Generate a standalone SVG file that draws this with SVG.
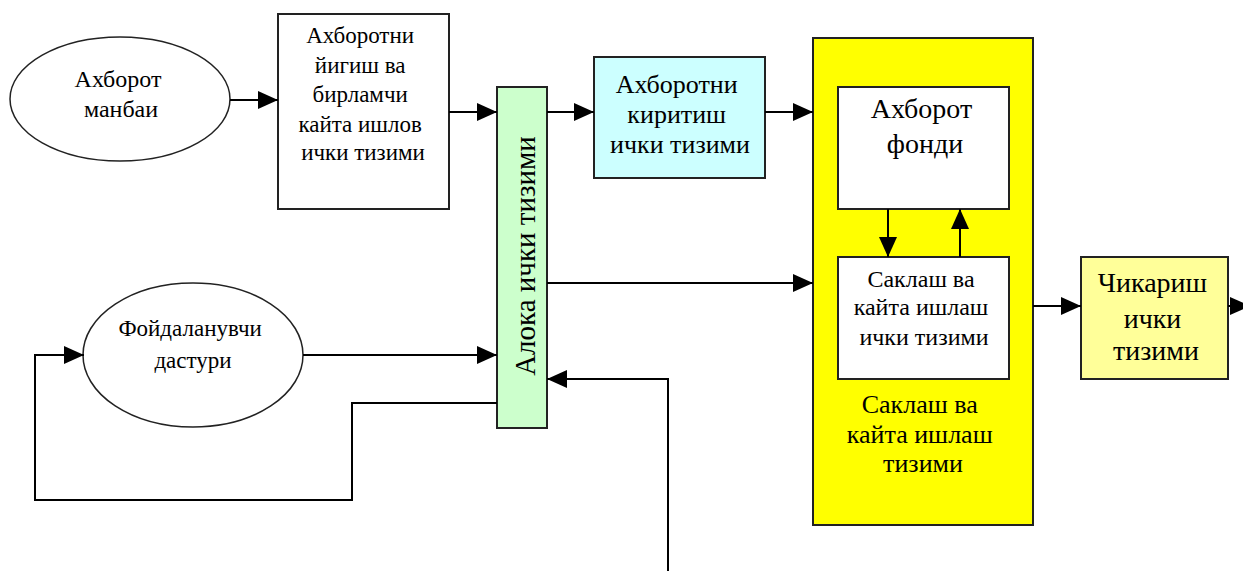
<svg xmlns="http://www.w3.org/2000/svg" width="1243" height="571" viewBox="0 0 1243 571">
  <style>
    .box { stroke: #222; stroke-width: 2; }
    .oval { fill: #fff; stroke: #222; stroke-width: 1.5; }
    .lbl { font-family: "Liberation Serif", "Times New Roman", serif; fill: #000; text-anchor: middle; }
    .wire { fill: none; stroke: #000; stroke-width: 2; }
  </style>
  <defs>
    <marker id="head" viewBox="0 0 20 18" refX="20" refY="9" markerWidth="20" markerHeight="18" markerUnits="userSpaceOnUse" orient="auto">
      <path d="M0,0 L20,9 L0,18 Z" fill="#000"/>
    </marker>
  </defs>
  <rect width="1243" height="571" fill="#fff"/>

  <!-- storage subsystem container (drawn first so inner nodes sit on top) -->
  <g id="storage-system">
    <rect class="box" x="813" y="38" width="220" height="487" fill="#ffff00"/>
    <text class="lbl" font-size="26">
      <tspan x="923" y="413">Саклаш ва</tspan>
      <tspan x="923" y="443">кайта ишлаш</tspan>
      <tspan x="923" y="472">тизими</tspan>
    </text>
  </g>

  <g id="source">
    <ellipse class="oval" cx="120" cy="99" rx="110" ry="62"/>
    <text class="lbl" font-size="24">
      <tspan x="121" y="87">Ахборот</tspan>
      <tspan x="121" y="117">манбаи</tspan>
    </text>
  </g>

  <g id="collect">
    <rect class="box" x="278" y="14" width="171" height="195" fill="#fff"/>
    <text class="lbl" font-size="23">
      <tspan x="363" y="43">Ахборотни</tspan>
      <tspan x="363" y="73">йигиш ва</tspan>
      <tspan x="363" y="102">бирламчи</tspan>
      <tspan x="363" y="132">кайта ишлов</tspan>
      <tspan x="363" y="160">ички тизими</tspan>
    </text>
  </g>

  <g id="link">
    <rect class="box" x="497" y="87" width="50" height="341" fill="#ccffcc"/>
    <text class="lbl" font-size="29" transform="translate(535,256) rotate(-90)" x="0" y="0">Алока ички тизими</text>
  </g>

  <g id="input">
    <rect class="box" x="594" y="57" width="171" height="121" fill="#ccffff"/>
    <text class="lbl" font-size="26">
      <tspan x="680" y="93">Ахборотни</tspan>
      <tspan x="680" y="123">киритиш</tspan>
      <tspan x="680" y="153">ички тизими</tspan>
    </text>
  </g>

  <g id="fund">
    <rect class="box" x="838" y="87" width="171" height="122" fill="#fff"/>
    <text class="lbl" font-size="28">
      <tspan x="925" y="118">Ахборот</tspan>
      <tspan x="925" y="153">фонди</tspan>
    </text>
  </g>

  <g id="store">
    <rect class="box" x="838" y="257" width="171" height="122" fill="#fff"/>
    <text class="lbl" font-size="24">
      <tspan x="924" y="287">Саклаш ва</tspan>
      <tspan x="924" y="315">кайта ишлаш</tspan>
      <tspan x="924" y="345">ички тизими</tspan>
    </text>
  </g>

  <g id="output">
    <rect class="box" x="1081" y="257" width="147" height="122" fill="#ffff99"/>
    <text class="lbl" font-size="28">
      <tspan x="1156" y="292">Чикариш</tspan>
      <tspan x="1156" y="328">ички</tspan>
      <tspan x="1156" y="360">тизими</tspan>
    </text>
  </g>

  <g id="user">
    <ellipse class="oval" cx="193" cy="355" rx="110" ry="72"/>
    <text class="lbl" font-size="23">
      <tspan x="193" y="336">Фойдаланувчи</tspan>
      <tspan x="193" y="368">дастури</tspan>
    </text>
  </g>

  <g id="connectors">
    <path class="wire" d="M230,100 H278" marker-end="url(#head)"/>
    <path class="wire" d="M449,112 H497" marker-end="url(#head)"/>
    <path class="wire" d="M547,112 H594" marker-end="url(#head)"/>
    <path class="wire" d="M765,112 H813" marker-end="url(#head)"/>
    <path class="wire" d="M547,283 H813" marker-end="url(#head)"/>
    <path class="wire" d="M303,355 H497" marker-end="url(#head)"/>
    <path class="wire" d="M497,403 H352 V500 H35 V355 H84" marker-end="url(#head)"/>
    <path class="wire" d="M668,571 V379 H547" marker-end="url(#head)"/>
    <path class="wire" d="M888,209 V257" marker-end="url(#head)"/>
    <path class="wire" d="M960,257 V209" marker-end="url(#head)"/>
    <path class="wire" d="M1033,306 H1081" marker-end="url(#head)"/>
    <path class="wire" d="M1228,306 H1250" marker-end="url(#head)"/>
  </g>
</svg>
